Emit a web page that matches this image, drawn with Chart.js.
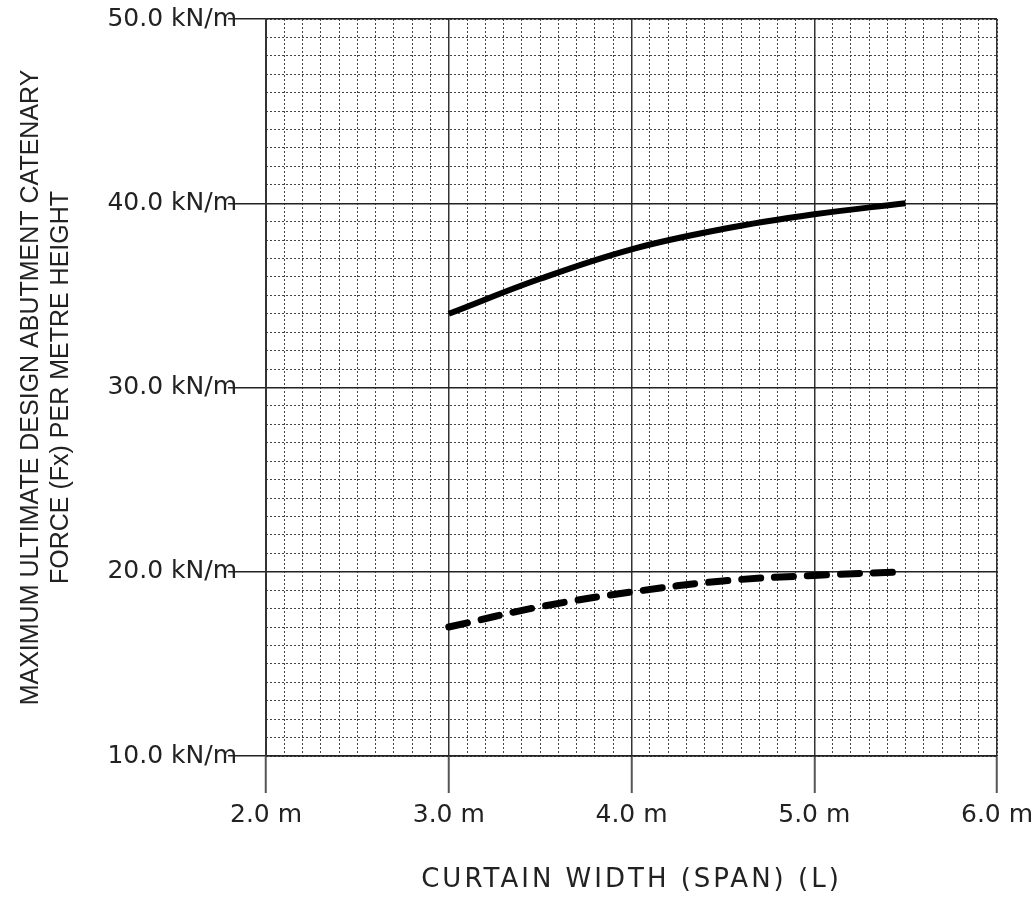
<!DOCTYPE html>
<html>
<head>
<meta charset="utf-8">
<script src="https://cdn.jsdelivr.net/npm/chart.js@4.4.0/dist/chart.umd.min.js"></script>
<style>
  html, body { margin: 0; padding: 0; background: #fff; }
  #wrap { width: 1034px; height: 899px; }
</style>
</head>
<body>
<div id="wrap"><canvas id="forceChart"></canvas></div>
<script>
const spans = [3.0, 3.5, 4.0, 4.5, 5.0, 5.5];
// upper curve, solid line (kN/m)
const forceUpper = [34.0, 35.9, 37.5, 38.6, 39.4, 40.0];
// lower curve, dashed line (kN/m)
const forceLower = [17.0, 18.1, 18.9, 19.5, 19.8, 20.0];
// major ticks
const xTicks = [2, 3, 4, 5, 6];
const yTicks = [10, 20, 30, 40, 50];

const toPoints = vals => spans.map((x, i) => ({ x: x, y: vals[i] }));

// draw x title with some letter spacing, like the original drawing
const spacedTitle = {
    id: 'spacedTitle',
    afterLayout(chart) {
        const s = chart.scales.x;
        if (s._patched) return;
        const orig = s.drawTitle;
        s.drawTitle = function () {
            this.ctx.save();
            this.ctx.letterSpacing = '3px';
            orig.apply(this, arguments);
            this.ctx.restore();
        };
        s._patched = true;
    }
};

const tickFont = { family: '"DejaVu Sans", Verdana, sans-serif', size: 25 };

new Chart(document.getElementById('forceChart'), {
    type: 'line',
    data: {
        datasets: [{
            data: toPoints(forceUpper),
            borderColor: '#000',
            borderWidth: 6,
            pointRadius: 0,
            tension: 0.4,
            xAxisID: 'x',
            yAxisID: 'y'
        }, {
            data: toPoints(forceLower),
            borderColor: '#000',
            borderWidth: 7,
            borderDash: [19, 14],
            borderCapStyle: 'round',
            pointRadius: 0,
            tension: 0.4,
            xAxisID: 'x',
            yAxisID: 'y'
        }]
    },
    options: {
        responsive: true,
        maintainAspectRatio: false,
        animation: false,
        layout: { padding: { top: 19, right: 37, bottom: 0, left: 0 } },
        plugins: { legend: { display: false }, tooltip: { enabled: false } },
        scales: {
            // minor dotted grid
            x2: {
                type: 'linear', position: 'bottom', min: 2, max: 6,
                ticks: { display: false, stepSize: 0.1, autoSkip: false },
                grid: { color: '#444', lineWidth: 1, drawTicks: false, z: -2 },
                border: { display: false, dash: [2, 2] },
                afterFit: s => { s.height = 0; }
            },
            y2: {
                type: 'linear', position: 'left', min: 10, max: 50,
                ticks: { display: false, stepSize: 1, autoSkip: false },
                grid: { color: '#444', lineWidth: 1, drawTicks: false, z: -2 },
                border: { display: false, dash: [2, 2] },
                afterFit: s => { s.width = 0; }
            },
            // major axes
            x: {
                type: 'linear', position: 'bottom', min: 2, max: 6,
                afterBuildTicks: s => { s.ticks = xTicks.map(v => ({ value: v })); },
                ticks: {
                    font: tickFont, color: '#222', padding: 7, maxRotation: 0,
                    callback: v => v.toFixed(1) + ' m'
                },
                grid: { color: '#333', lineWidth: 1.5, tickLength: 37, tickColor: '#555', tickWidth: 2 },
                border: { color: '#222', width: 1.5 },
                title: {
                    display: true,
                    text: 'CURTAIN WIDTH (SPAN) (L)',
                    color: '#222',
                    font: { family: '"DejaVu Sans", Verdana, sans-serif', size: 26 },
                    padding: { top: 0, bottom: 3 }
                },
                afterFit: s => {
                    s.height = 143;
                    // let the last label run into the right margin
                    s.paddingLeft = 0;
                    s.paddingRight = 0;
                }
            },
            y: {
                type: 'linear', position: 'left', min: 10, max: 50,
                afterBuildTicks: s => { s.ticks = yTicks.map(v => ({ value: v })); },
                ticks: {
                    font: tickFont, color: '#222', padding: -9,
                    callback: v => v.toFixed(1) + ' kN/m'
                },
                grid: { color: '#222', lineWidth: 1.5, tickLength: 38, tickColor: '#222', tickWidth: 1.5 },
                border: { color: '#333', width: 2 },
                title: {
                    display: true,
                    text: ['MAXIMUM ULTIMATE DESIGN ABUTMENT CATENARY', 'FORCE (Fx) PER METRE HEIGHT'],
                    color: '#222',
                    font: { family: '"Liberation Sans", Arial, sans-serif', size: 25 },
                    padding: { top: 16, bottom: 0 }
                },
                afterFit: s => {
                    s.width = 266;
                    s.paddingTop = 0;
                    s.paddingBottom = 0;
                }
            }
        }
    },
    plugins: [spacedTitle]
});
</script>
</body>
</html>
